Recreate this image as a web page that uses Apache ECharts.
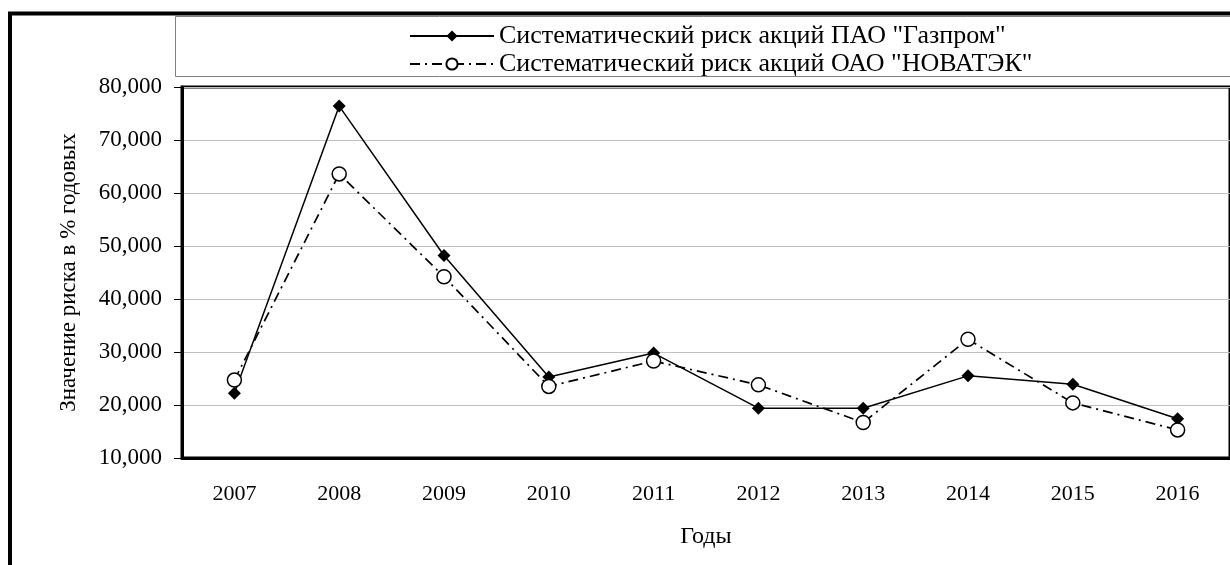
<!DOCTYPE html>
<html>
<head>
<meta charset="utf-8">
<script src="https://cdn.jsdelivr.net/npm/echarts@6/dist/echarts.min.js"></script>
<style>
  html, body { margin: 0; padding: 0; background: #fff; }
  #chart { width: 1230px; height: 565px; }
</style>
</head>
<body>
<div id="chart"></div>
<script>
const years = ["2007", "2008", "2009", "2010", "2011", "2012", "2013", "2014", "2015", "2016"];
const gazpromRisk = [22.2, 76.4, 48.2, 25.3, 29.8, 19.4, 19.4, 25.5, 23.9, 17.4];
const novatekRisk = [24.7, 63.6, 44.2, 23.5, 28.3, 23.8, 16.7, 32.4, 20.4, 15.3];
const gazpromName = 'Систематический риск акций ПАО "Газпром"';
const novatekName = 'Систематический риск акций ОАО "НОВАТЭК"';
const yMin = 10;
const yMax = 80;
const yStep = 10;

const font = "'Liberation Serif', 'Times New Roman', serif";

const chart = echarts.init(document.getElementById("chart"));

// formats 80 -> "80,000"
const fmtValue = (v) => v.toFixed(3).replace(".", ",");

const option = {
  backgroundColor: "#fff",
  animation: false,
  textStyle: { fontFamily: font, color: "#000" },
  graphic: [
    // outer chart frame (runs off the right and bottom edges)
    {
      type: "rect",
      shape: { x: 10, y: 13.5, width: 1400, height: 800 },
      style: { fill: "none", stroke: "#000", lineWidth: 4 },
      z: 0
    },
    // legend box
    {
      type: "rect",
      shape: { x: 175.5, y: 16.5, width: 1200, height: 60 },
      style: { fill: "none", stroke: "#808080", lineWidth: 1 },
      z: 0
    }
  ],
  legend: {
    orient: "vertical",
    left: 404,
    top: 18,
    itemWidth: 84,
    itemHeight: 14,
    itemGap: 2,
    textStyle: { fontFamily: font, fontSize: 26, color: "#000", lineHeight: 26 },
    data: [gazpromName, novatekName]
  },
  grid: {
    left: 182,
    right: -3,
    top: 87,
    bottom: 107,
    show: true,
    borderColor: "#000",
    borderWidth: 3,
    backgroundColor: "transparent"
  },
  xAxis: {
    type: "category",
    data: years,
    name: "Годы",
    nameLocation: "middle",
    nameGap: 67,
    nameTextStyle: { fontFamily: font, fontSize: 24, color: "#000" },
    axisLine: { lineStyle: { color: "#000", width: 3 } },
    axisTick: { length: 7, lineStyle: { color: "#444", width: 1 } },
    axisLabel: { fontFamily: font, fontSize: 22, color: "#000", margin: 25 },
    splitLine: { show: false }
  },
  yAxis: {
    type: "value",
    min: yMin,
    max: yMax,
    interval: yStep,
    name: "Значение риска в % годовых",
    nameLocation: "middle",
    nameGap: 102,
    nameRotate: 90,
    nameTextStyle: { fontFamily: font, fontSize: 23, color: "#000" },
    axisLine: { show: true, lineStyle: { color: "#000", width: 3 } },
    axisTick: { show: true, inside: false, length: 8, lineStyle: { color: "#000", width: 1 } },
    axisLabel: { fontFamily: font, fontSize: 23, color: "#000", margin: 20, formatter: fmtValue },
    splitLine: { show: true, lineStyle: { color: "#c0c0c0", width: 1 } }
  },
  series: [
    {
      name: gazpromName,
      type: "line",
      data: gazpromRisk,
      symbol: "diamond",
      symbolSize: 13,
      lineStyle: { color: "#000", width: 1.5 },
      itemStyle: { color: "#000" }
    },
    {
      name: novatekName,
      type: "line",
      data: novatekRisk,
      symbol: "circle",
      symbolSize: 14,
      lineStyle: { color: "#000", width: 1.7, type: [10, 5, 2, 5] },
      itemStyle: { color: "#fff", borderColor: "#000", borderWidth: 1.5 }
    }
  ]
};

chart.setOption(option);
</script>
</body>
</html>
